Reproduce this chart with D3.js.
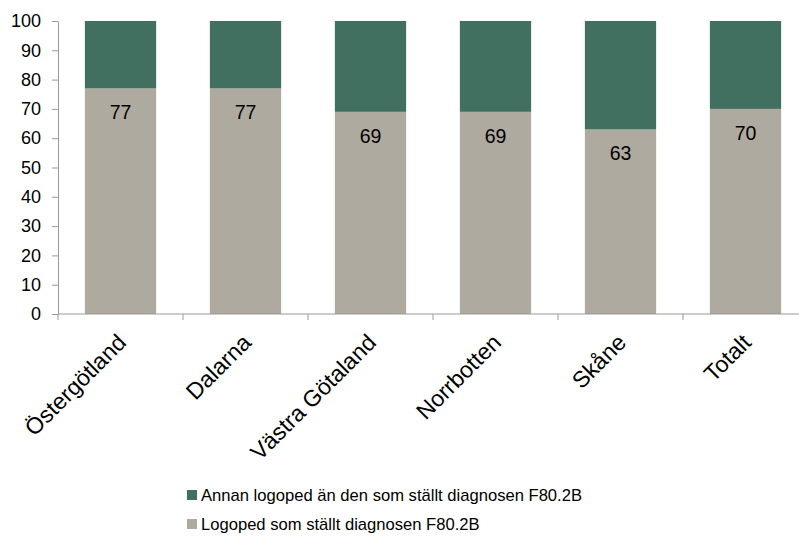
<!DOCTYPE html>
<html>
<head>
<meta charset="utf-8">
<script src="https://cdn.jsdelivr.net/npm/d3@7"></script>
<style>
    body { margin: 0; background: #fff; }
    svg { display: block; font-family: "Liberation Sans", Arial, sans-serif; }
</style>
</head>
<body>
<div id="chart"></div>
<script>
// data
let regions = ['Östergötland', 'Dalarna', 'Västra Götaland', 'Norrbotten', 'Skåne', 'Totalt'];
let sammaLogoped = [77, 77, 69, 69, 63, 70];
let annanLogoped = [23, 23, 31, 31, 37, 30];
let yTicks = [0, 10, 20, 30, 40, 50, 60, 70, 80, 90, 100];
let seriesNames = ['Annan logoped än den som ställt diagnosen F80.2B', 'Logoped som ställt diagnosen F80.2B'];
let colors = ['#416f60', '#aeaaa0'];

let width = 799;
let height = 539;

let svg = d3.select('#chart').append('svg')
    .attr('width', width)
    .attr('height', height);

let x = d3.scaleBand()
    .domain(regions)
    .range([58, 808])
    .paddingInner(0.43)
    .paddingOuter(0.215);

let y = d3.scaleLinear()
    .domain([0, 100])
    .range([314, 21]);

// build stacked rows
let rows = regions.map(function (r, i) {
    return {region: r, samma: sammaLogoped[i], annan: annanLogoped[i]};
});
let stack = d3.stack().keys(['samma', 'annan'])(rows);

// bars
svg.append('g').selectAll('g')
    .data(stack)
    .enter().append('g')
    .attr('fill', function (d) {
        return d.key === 'samma' ? colors[1] : colors[0];
    })
    .selectAll('rect')
    .data(function (d) { return d; })
    .enter().append('rect')
    .attr('x', function (d) { return x(d.data.region); })
    .attr('y', function (d) { return y(d[1]); })
    .attr('width', x.bandwidth())
    .attr('height', function (d) { return y(d[0]) - y(d[1]); });

// y axis
let yAxis = svg.append('g')
    .attr('transform', 'translate(58,0)')
    .call(d3.axisLeft(y).tickValues(yTicks).tickSize(6).tickSizeOuter(0).tickPadding(11));
yAxis.select('.domain').attr('stroke', '#999');
yAxis.selectAll('line').attr('stroke', '#999');
yAxis.selectAll('text').attr('fill', '#000').style('font-size', '18px');

// x axis line + ticks between categories
let xAxis = svg.append('g');
xAxis.append('line')
    .attr('x1', 58).attr('x2', 808)
    .attr('y1', y(0)).attr('y2', y(0))
    .attr('stroke', '#999');
let step = x.step();
regions.forEach(function (r, i) {
    let tx = 58 + i * step;
    xAxis.append('line')
        .attr('x1', tx).attr('x2', tx)
        .attr('y1', y(0)).attr('y2', y(0) + 6)
        .attr('stroke', '#999');
});

// category labels
svg.append('g').selectAll('text')
    .data(regions)
    .enter().append('text')
    .attr('transform', function (d) {
        let cx = x(d) + x.bandwidth() / 2;
        return 'translate(' + (cx + 7) + ',' + 344 + ') rotate(-45)';
    })
    .attr('text-anchor', 'end')
    .style('font-size', '23px')
    .text(function (d) { return d; });

// value labels
svg.append('g').selectAll('text')
    .data(rows)
    .enter().append('text')
    .attr('x', function (d) { return x(d.region) + x.bandwidth() / 2; })
    .attr('y', function (d) { return y(d.samma) + 31; })
    .attr('text-anchor', 'middle')
    .style('font-size', '19.5px')
    .text(function (d) { return d.samma; });

// legend
let legend = svg.append('g');
seriesNames.forEach(function (name, i) {
    let ly = 495 + i * 29;
    legend.append('rect')
        .attr('x', 187).attr('y', ly - 5)
        .attr('width', 10).attr('height', 10)
        .attr('fill', colors[i]);
    legend.append('text')
        .attr('x', 201).attr('y', ly)
        .attr('dy', '0.35em')
        .style('font-size', '16.6px')
        .text(name);
});
</script>
</body>
</html>
